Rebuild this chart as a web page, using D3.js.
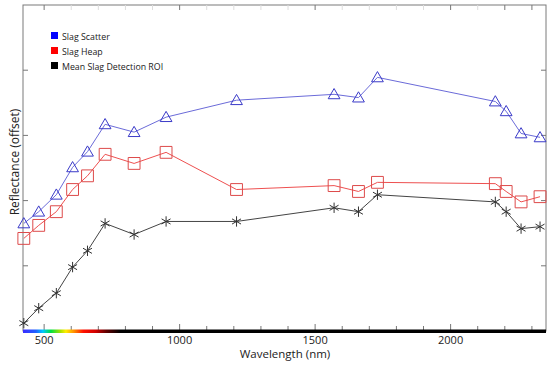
<!DOCTYPE html>
<html>
<head>
<meta charset="utf-8">
<script src="https://cdnjs.cloudflare.com/ajax/libs/d3/7.8.5/d3.min.js"></script>
<style>
  body { margin: 0; background: #fff; }
  .tick-label { font-family: "Open Sans", sans-serif; font-size: 11px; fill: #222; }
  .axis-title { font-family: "Open Sans", sans-serif; font-size: 11.5px; fill: #222; }
  .legs-text { font-family: "Open Sans", sans-serif; font-size: 8.8px; fill: #222; }
</style>
</head>
<body>
<div id="chart"></div>
<script>
// WorldView-3 band centres (nm)
var wavelengths = [425, 480, 545, 605, 660, 725, 832, 950, 1210, 1570, 1660, 1730, 2165, 2205, 2260, 2330];

// reflectance, offset (arbitrary units, no labels on axis)
var slagScatter = [1.65, 1.83, 2.09, 2.51, 2.75, 3.17, 3.05, 3.28, 3.54, 3.63, 3.58, 3.89, 3.52, 3.37, 3.03, 2.97];
var slagHeap = [1.42, 1.62, 1.83, 2.17, 2.38, 2.71, 2.57, 2.74, 2.17, 2.23, 2.14, 2.28, 2.26, 2.14, 1.98, 2.06];
var meanROI = [0.12, 0.35, 0.58, 0.98, 1.23, 1.65, 1.48, 1.68, 1.68, 1.89, 1.83, 2.09, 1.98, 1.83, 1.57, 1.60];

var seriesNames = ["Slag Scatter", "Slag Heap", "Mean Slag Detection ROI"];
var xTickLabels = [500, 1000, 1500, 2000];
var yTicks = [1, 2, 3, 4];

var series = [
    {name: seriesNames[0], values: slagScatter, line: "#6b6bd9", marker: "#3a3ac8", key: "#0000ff", symbol: "tri"},
    {name: seriesNames[1], values: slagHeap, line: "#ee5050", marker: "#dd4a4a", key: "#ff0000", symbol: "sq"},
    {name: seriesNames[2], values: meanROI, line: "#444", marker: "#333", key: "#000000", symbol: "star"}
];

var W = 550, H = 365;
var pLeft = 23, pRight = 546, pTop = 5, pBottom = 331;

var x = d3.scaleLinear().domain([422, 2352]).range([pLeft, pRight]);
var y = d3.scaleLinear().domain([0, 5]).range([pBottom, pTop]);

var svg = d3.select("#chart").append("svg").attr("width", W).attr("height", H);
svg.append("rect").attr("width", W).attr("height", H).attr("fill", "#fff");

// frame
svg.append("rect").attr("x", pLeft).attr("y", pTop)
    .attr("width", pRight - pLeft).attr("height", pBottom - pTop)
    .attr("fill", "none").attr("stroke", "#7a7a7a").attr("stroke-width", 1);

// minor ticks every 100nm
var xMinor = d3.range(500, 2351, 100);
svg.append("g").selectAll("line").data(xMinor).enter().append("line")
    .attr("x1", function(d){ return x(d); }).attr("x2", function(d){ return x(d); })
    .attr("y1", pBottom).attr("y2", function(d){ return d % 500 == 0 ? pBottom - 7 : pBottom - 5; })
    .attr("stroke", "#777").attr("stroke-width", 1);
svg.append("g").selectAll("line").data(xMinor).enter().append("line")
    .attr("x1", function(d){ return x(d); }).attr("x2", function(d){ return x(d); })
    .attr("y1", pTop).attr("y2", pTop + 5)
    .attr("stroke", function(d){ return d % 500 == 0 || d > 2100 ? "#777" : "#ddd"; }).attr("stroke-width", 1);

// y ticks, both sides
svg.append("g").selectAll("line").data(yTicks).enter().append("line")
    .attr("x1", pLeft).attr("x2", pLeft + 5)
    .attr("y1", function(d){ return y(d); }).attr("y2", function(d){ return y(d); })
    .attr("stroke", "#777");
svg.append("g").selectAll("line").data(yTicks).enter().append("line")
    .attr("x1", pRight - 5).attr("x2", pRight)
    .attr("y1", function(d){ return y(d); }).attr("y2", function(d){ return y(d); })
    .attr("stroke", "#777");

// spectrum bar along the bottom axis
var grad = svg.append("defs").append("linearGradient").attr("id", "spec")
    .attr("gradientUnits", "userSpaceOnUse")
    .attr("x1", x(422)).attr("x2", x(780)).attr("y1", 0).attr("y2", 0);
var stops = [[422, "#3a2cff"], [470, "#2060ff"], [495, "#00c8ff"], [525, "#00e040"], [560, "#a8e000"], [580, "#ffee00"], [610, "#ff9000"], [645, "#ff1000"], [690, "#d00000"], [730, "#600000"], [780, "#000000"]];
grad.selectAll("stop").data(stops).enter().append("stop")
    .attr("offset", function(d){ return (x(d[0]) - x(422)) / (x(780) - x(422)); })
    .attr("stop-color", function(d){ return d[1]; });
svg.append("rect").attr("x", pLeft).attr("y", pBottom - 1.5)
    .attr("width", pRight - pLeft).attr("height", 3.5).attr("fill", "url(#spec)");

// tick labels
svg.append("g").selectAll("text").data(xTickLabels).enter().append("text")
    .attr("class", "tick-label").attr("x", function(d){ return x(d); }).attr("y", 344)
    .attr("text-anchor", "middle").text(function(d){ return d; });

svg.append("text").attr("class", "axis-title").attr("x", 285).attr("y", 358)
    .attr("text-anchor", "middle").text("Wavelength (nm)");
svg.append("text").attr("class", "axis-title").style("font-size", "12px")
    .attr("transform", "translate(19,162) rotate(-90)")
    .attr("text-anchor", "middle").text("Reflectance (offset)");

// lines + markers
var line = d3.line()
    .x(function(d, i){ return x(wavelengths[i]); })
    .y(function(d){ return y(d); });

var symbols = {
    tri: d3.symbol().type(d3.symbolTriangle).size(60),
    sq: d3.symbol().type(d3.symbolSquare).size(140),
    star: d3.symbol().type(d3.symbolAsterisk).size(75)
};

series.forEach(function(s){
    var g = svg.append("g");
    g.append("path").attr("d", line(s.values))
        .attr("fill", "none").attr("stroke", s.line).attr("stroke-width", 1);
    g.selectAll("path.mk").data(s.values).enter().append("path").attr("class", "mk")
        .attr("transform", function(d, i){
            var dy = s.symbol == "tri" ? 1 : 0;
            return "translate(" + x(wavelengths[i]) + "," + (y(d) + dy) + ")";
        })
        .attr("d", symbols[s.symbol]())
        .attr("fill", "none").attr("stroke", s.marker).attr("stroke-width", 1);
});

// legend
var legend = svg.append("g").attr("class", "legend");
legend.selectAll("rect").data(series).enter().append("rect")
    .attr("x", 51).attr("y", function(d, i){ return 32 + i * 15; })
    .attr("width", 7).attr("height", 7).attr("fill", function(d){ return d.key; });
legend.selectAll("text").data(series).enter().append("text")
    .attr("class", "legs-text").attr("x", 62).attr("y", function(d, i){ return 39.5 + i * 15; })
    .text(function(d){ return d.name; });
</script>
</body>
</html>
